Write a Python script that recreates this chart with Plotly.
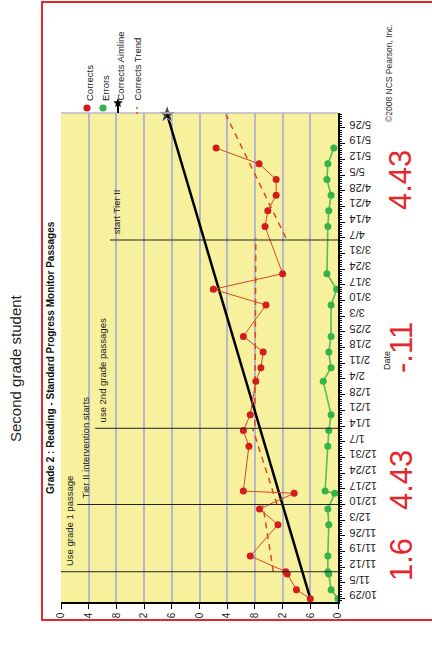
import math
import plotly.graph_objects as go

# ---------------- data ----------------
dates = ["2007-10-29", "2007-11-02", "2007-11-09", "2007-11-10", "2007-11-17",
         "2007-12-01", "2007-12-08", "2007-12-15", "2007-12-16", "2008-01-05",
         "2008-01-12", "2008-01-19", "2008-02-03", "2008-02-09", "2008-02-16",
         "2008-02-23", "2008-03-08", "2008-03-15", "2008-03-22", "2008-04-12",
         "2008-04-19", "2008-04-26", "2008-05-03", "2008-05-10", "2008-05-17"]
corrects = [6, 9, 11, 11.3, 19, 13, 17, 9.5, 20.5, 19.3, 20.5, 19, 17.8, 16.7,
            16.2, 20.5, 15.6, 27, 12, 15.8, 15.2, 13.4, 13.4, 17.1, 26.4]
errors = [0, 1.5, 2, 2.2, 2.2, 2, 2.2, 0.7, 2.8, 2.2, 2, 1.5, 3.2, 1.5, 2,
          1.5, 1.5, 0.3, 2.4, 2.2, 2, 1.5, 2.4, 2.2, 0.9]

aim_dates = ["2007-10-29", "2008-06-01"]
aim_values = [6, 37]

trend_dates = [["2007-11-10", "2007-12-10"], ["2007-12-10", "2008-01-13"],
               ["2008-01-14", "2008-04-07"], ["2008-04-07", "2008-06-01"]]
trend_values = [[14, 16.3], [13.2, 18.5], [18, 17.8], [11.3, 24.3]]

phase_dates = ["2007-11-10", "2007-12-10", "2008-01-13", "2008-04-06"]
phase_labels = ["Use grade 1 passage", "Tier II intervention starts",
                "use 2nd grade passages", "start Tier II"]

slope_labels = ["1.6", "4.43", "-.11", "4.43"]
value_ticks = [0, 6, 12, 18, 24, 30, 36, 42, 48, 54, 60]
legend_names = ["Corrects", "Errors", "Corrects Aimline", "Corrects Trend"]

# ---------------- layout helpers ----------------
W, H = 432, 646
L, R, T, B = 61, 94, 113, 44
PW, PH = W - L - R, H - T - B


def px(x):
    return (x - L) / PW


def py(y):
    return (H - B - y) / PH


RED = "#d41c1c"
GREEN = "#33b34a"
TREND = "#e0452a"
FONT = "Liberation Sans, Arial, sans-serif"

fig = go.Figure()

for td, tv in zip(trend_dates, trend_values):
    fig.add_trace(go.Scatter(x=tv, y=td, mode="lines",
                             line=dict(color=TREND, width=1.5, dash="6px,5px"),
                             showlegend=False, hoverinfo="skip"))

fig.add_trace(go.Scatter(x=errors, y=dates, mode="lines+markers", name="Errors",
                         line=dict(color="#55bf55", width=1.6),
                         marker=dict(color=GREEN, size=7), showlegend=False))
fig.add_trace(go.Scatter(x=aim_values, y=aim_dates, mode="lines+markers",
                         name="Corrects Aimline",
                         line=dict(color="black", width=2.5),
                         marker=dict(symbol="star", color="black", size=[0, 14]),
                         showlegend=False, cliponaxis=False))
fig.add_trace(go.Scatter(x=corrects, y=dates, mode="lines+markers", name="Corrects",
                         line=dict(color="#d24a2a", width=1),
                         marker=dict(color=RED, size=7), showlegend=False,
                         cliponaxis=False))

shapes = []
annotations = []

# phase change lines + labels
phase_start = [60, 56.5, 52.6, 49.4]
label_val = [58.2, 54.8, 51.1, 47.9]
for d, lab, x0, lv in zip(phase_dates, phase_labels, phase_start, label_val):
    shapes.append(dict(type="line", xref="x", yref="y", x0=x0, x1=0, y0=d, y1=d,
                       line=dict(color="#222222", width=1)))
    annotations.append(dict(text=lab, x=lv, y=d, xref="x", yref="y", showarrow=False,
                            textangle=-90, xanchor="center", yanchor="bottom", yshift=4,
                            font=dict(size=9.5, color="#222", family=FONT)))

# top border of plot
shapes.append(dict(type="line", xref="paper", yref="paper", x0=0, x1=1, y0=1, y1=1,
                   line=dict(color="#b9b9c9", width=1.5)))


# legend keys (drawn as shapes, in pixel positions)
def circle(cx, cy, r, color):
    return dict(type="circle", xref="paper", yref="paper", x0=px(cx - r), x1=px(cx + r),
                y0=py(cy + r), y1=py(cy - r), fillcolor=color, line=dict(width=0),
                layer="above")


def star_path(cx, cy, r_out, r_in):
    pts = []
    for k in range(10):
        ang = -math.pi / 2 + k * math.pi / 5
        rr = r_out if k % 2 == 0 else r_in
        pts.append((px(cx + rr * math.cos(ang)), py(cy + rr * math.sin(ang))))
    return "M " + " L ".join(f"{a:.5f},{b:.5f}" for a, b in pts) + " Z"


shapes.append(circle(87, 108, 3.6, RED))
shapes.append(circle(103, 108, 3.6, GREEN))
shapes.append(dict(type="line", xref="paper", yref="paper", x0=px(118), x1=px(118),
                   y0=py(113), y1=py(104), line=dict(color="black", width=2),
                   layer="above"))
shapes.append(dict(type="path", xref="paper", yref="paper", path=star_path(118, 103, 5, 2.2),
                   fillcolor="black", line=dict(width=0), layer="above"))
shapes.append(dict(type="line", xref="paper", yref="paper", x0=px(137), x1=px(137),
                   y0=py(114), y1=py(105), line=dict(color=TREND, width=1.5, dash="2px,3px"),
                   layer="above"))

# white cover below frame (crops tick labels as in the reference)
shapes.append(dict(type="rect", xref="paper", yref="paper", x0=px(0), x1=px(W),
                   y0=py(H + 5), y1=py(621), fillcolor="white", line=dict(width=0),
                   layer="above"))
# red frame
shapes.append(dict(type="rect", xref="paper", yref="paper", x0=px(42), x1=px(W + 5),
                   y0=py(620), y1=py(2), line=dict(color="#e5262b", width=2),
                   fillcolor="rgba(0,0,0,0)", layer="above"))

annotations += [
    dict(text="<b>Grade 2 : Reading - Standard Progress Monitor Passages</b>",
         x=px(50), y=py(358), xref="paper", yref="paper", showarrow=False,
         xanchor="center", yanchor="middle",
         textangle=-90, font=dict(size=10, color="#111", family=FONT)),
    dict(text="Second grade student", x=px(15), y=py(368), xref="paper", yref="paper",
         xanchor="center", yanchor="middle",
         showarrow=False, textangle=-90, font=dict(size=15, color="#222", family=FONT)),
    dict(text="©2008 NCS Pearson, Inc.", x=px(389), y=py(73), xref="paper", yref="paper",
         xanchor="center", yanchor="middle",
         showarrow=False, textangle=-90, font=dict(size=8.5, color="#333", family=FONT)),
    dict(text="Date", x=px(387), y=py(361), xref="paper", yref="paper",
         xanchor="center", yanchor="middle",
         showarrow=False, textangle=-90, font=dict(size=9, color="#222", family=FONT)),
]
leg_x = [89, 105, 120, 137]
for name, lx in zip(legend_names, leg_x):
    annotations.append(dict(text=name, x=px(lx), y=py(103), xref="paper", yref="paper",
                            showarrow=False, textangle=-90, xanchor="center",
                            yanchor="bottom", font=dict(size=9.5, color="#222", family=FONT)))
slope_y = [560, 480, 348, 180]
for s, sy in zip(slope_labels, slope_y):
    annotations.append(dict(text=s, x=px(401), y=py(sy), xref="paper", yref="paper",
                            xanchor="center", yanchor="middle",
                            showarrow=False, textangle=-90,
                            font=dict(size=31, color="#e5262b", family=FONT)))

fig.update_layout(
    width=W, height=H, margin=dict(l=L, r=R, t=T, b=B, autoexpand=False),
    paper_bgcolor="white", plot_bgcolor="#f7f09c",
    shapes=shapes, annotations=annotations, showlegend=False,
    xaxis=dict(range=[60, 0], tickvals=value_ticks, tickangle=-90, ticks="outside",
               ticklen=5, tickcolor="black", showline=True, linecolor="black",
               linewidth=1.5, showgrid=True, gridcolor="#b6b6cc", gridwidth=1.5,
               zeroline=False, tickfont=dict(size=10, color="#222", family=FONT)),
    yaxis=dict(type="date", range=["2007-10-27 12:00", "2008-06-01 16:00"], side="right",
               tick0="2007-10-29", dtick=7 * 86400000, tickformat="%-m/%-d",
               tickangle=180, ticklabelposition="inside", ticklabelstandoff=-12,
               ticks="outside", ticklen=5, tickcolor="black",
               showline=True, linecolor="black", linewidth=1.5, showgrid=False,
               zeroline=False, tickfont=dict(size=11, color="#222", family=FONT),
               minor=dict(dtick=86400000, ticks="outside", ticklen=2.5,
                          tickcolor="black", showgrid=False)),
)

fig.write_html("out.html", config={"displayModeBar": False},
               post_script="document.body.style.margin='0';document.body.style.overflow='hidden';")
